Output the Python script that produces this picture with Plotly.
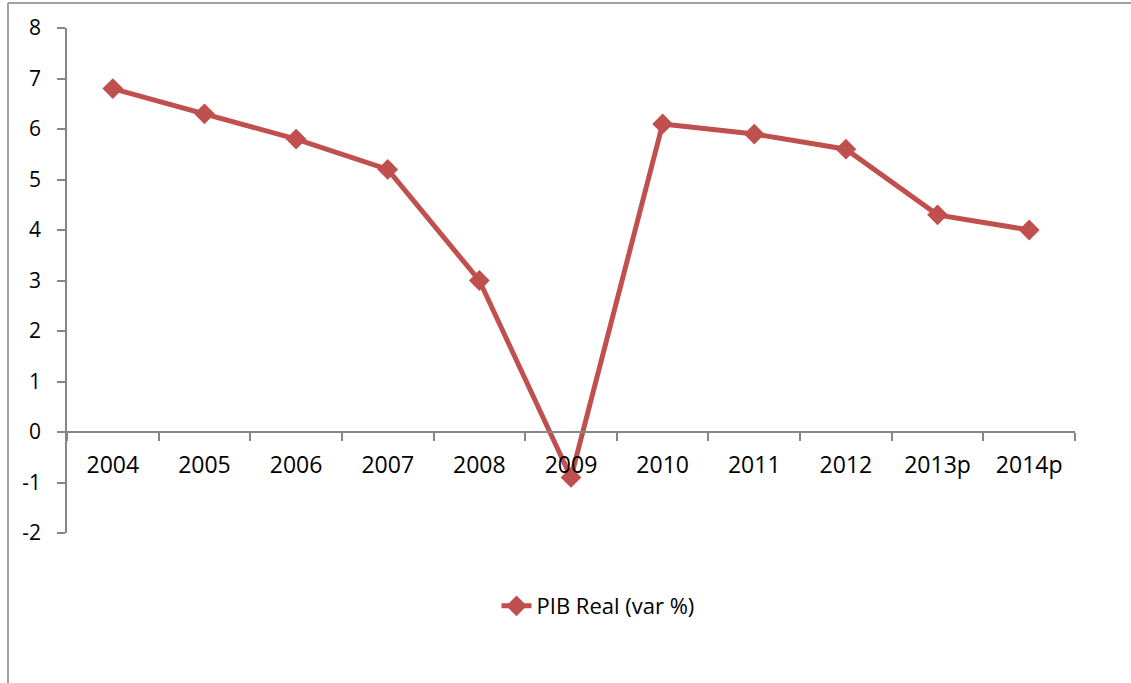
import plotly.graph_objects as go

years = ["2004", "2005", "2006", "2007", "2008", "2009", "2010", "2011", "2012", "2013p", "2014p"]
pib_real = [6.8, 6.3, 5.8, 5.2, 3.0, -0.9, 6.1, 5.9, 5.6, 4.3, 4.0]
y_ticks = [-2, -1, 0, 1, 2, 3, 4, 5, 6, 7, 8]
y_tick_text = ["-2", "-1", "0", "1", "2", "3", "4", "5", "6", "7", "8"]
series_name = "PIB Real (var %)"

W, H = 1131, 683
L, R, T, B = 67, 56, 28, 150
pw, ph = W - L - R, H - T - B

def px(xp):
    return (xp - L) / pw

def py(yp):
    return (H - B - yp) / ph

red = "#C0504D"
axis_col = "#868686"
font = "'Open Sans', sans-serif"

fig = go.Figure()
fig.add_trace(go.Scatter(
    x=years, y=pib_real, name=series_name, mode="lines+markers",
    line=dict(color=red, width=5),
    marker=dict(symbol="diamond", size=16, color=red),
    showlegend=True,
))

fig.update_layout(
    width=W, height=H,
    margin=dict(l=L, r=R, t=T, b=B),
    paper_bgcolor="white", plot_bgcolor="white",
    font=dict(family=font, color="black"),
    showlegend=True,
    legend=dict(orientation="h", x=px(598), y=py(606), xanchor="center", yanchor="middle",
                font=dict(size=22, family=font, color="black"), bgcolor="rgba(0,0,0,0)"),
    xaxis=dict(
        type="category", range=[-0.5, len(years) - 0.5],
        anchor="free", position=(0 - y_ticks[0]) / (y_ticks[-1] - y_ticks[0]),
        showline=True, linecolor=axis_col, linewidth=1.5,
        ticks="outside", tickson="boundaries", ticklen=8, tickcolor=axis_col, tickwidth=1.5,
        showgrid=False, zeroline=False,
        tickfont=dict(size=23, family=font, color="black"),
        ticklabelstandoff=13,
    ),
    yaxis=dict(
        range=[y_ticks[0], y_ticks[-1]], tickvals=y_ticks, ticktext=y_tick_text,
        showline=True, linecolor=axis_col, linewidth=1.5,
        ticks="outside", ticklen=8, tickcolor=axis_col, tickwidth=1.5,
        showgrid=False, zeroline=False,
        tickfont=dict(size=21, family=font, color="black"),
        ticklabelstandoff=12,
    ),
    shapes=[
        dict(type="line", xref="paper", yref="paper", x0=px(8), x1=px(1135), y0=py(3), y1=py(3),
             line=dict(color="#A0A0A0", width=2)),
        dict(type="line", xref="paper", yref="paper", x0=px(8), x1=px(8), y0=py(3), y1=py(690),
             line=dict(color="#A0A0A0", width=2)),
    ],
)

fig.write_html("out.html")
